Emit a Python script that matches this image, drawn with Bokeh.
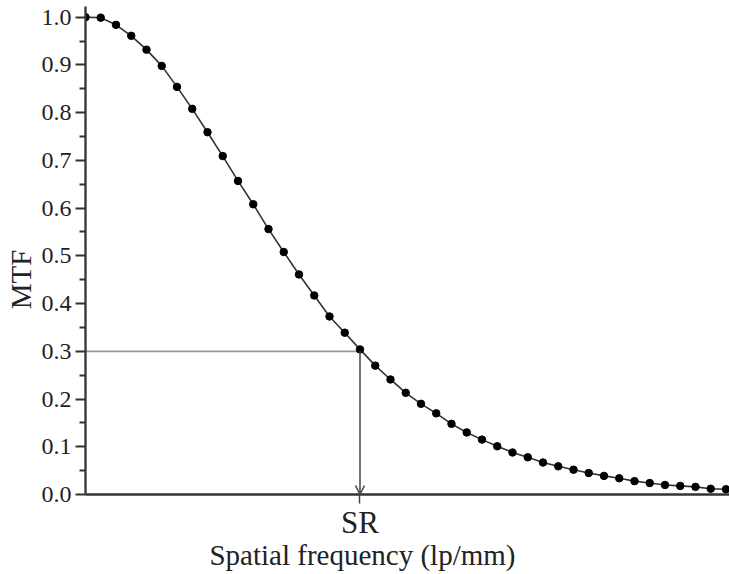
import math
from bokeh.plotting import figure
from bokeh.models import FixedTicker, PrintfTickFormatter, Range1d, Arrow, OpenHead, ColumnDataSource, LinearAxis
from bokeh.embed import file_html
from bokeh.resources import INLINE

# Data (spatial frequency in arbitrary sample steps, MTF values)
freq = list(range(43))
mtf = [1.000, 0.999, 0.984, 0.961, 0.932, 0.898, 0.854, 0.808, 0.759, 0.709,
       0.657, 0.608, 0.556, 0.508, 0.461, 0.417, 0.373, 0.339, 0.304, 0.270,
       0.241, 0.213, 0.190, 0.170, 0.148, 0.130, 0.115, 0.101, 0.088, 0.078,
       0.067, 0.059, 0.052, 0.045, 0.039, 0.034, 0.028, 0.024, 0.020, 0.018,
       0.016, 0.012, 0.011]
sr_freq = 18
sr_mtf = 0.30
y_ticks = [0.0, 0.1, 0.2, 0.3, 0.4, 0.5, 0.6, 0.7, 0.8, 0.9, 1.0]
y_minor = [0.05, 0.15, 0.25, 0.35, 0.45, 0.55, 0.65, 0.75, 0.85, 0.95]
x_title = "Spatial frequency (lp/mm)"
y_title = "MTF"

FONT = "Liberation Serif"
X_END = 42.23
Y_END = 1.0224

p = figure(width=729, height=574, output_backend="svg", toolbar_location=None,
           x_range=Range1d(0, X_END), y_range=Range1d(0, Y_END),
           min_border_left=85, min_border_right=0, min_border_top=6, min_border_bottom=80)
p.outline_line_color = None
p.grid.visible = False
p.background_fill_color = "white"
p.border_fill_color = "white"

# y axis
ya = p.yaxis[0]
ya.ticker = FixedTicker(ticks=y_ticks, minor_ticks=y_minor)
ya.formatter = PrintfTickFormatter(format="%.1f")
ya.axis_line_color = "#333333"
ya.axis_line_width = 2.3
ya.major_tick_line_color = "#333333"
ya.major_tick_line_width = 2
ya.minor_tick_line_color = "#333333"
ya.minor_tick_line_width = 2
ya.major_tick_in = 0
ya.major_tick_out = 10
ya.minor_tick_in = 0
ya.minor_tick_out = 6
ya.major_label_standoff = 4
ya.major_label_text_font = FONT
ya.major_label_text_font_size = "24px"
ya.major_label_text_color = "#222222"

# x axis
xa = p.xaxis[0]
xa.ticker = FixedTicker(ticks=[sr_freq], minor_ticks=[])
xa.major_label_overrides = {sr_freq: "SR"}
xa.axis_line_color = "#333333"
xa.axis_line_width = 2.3
xa.major_tick_line_color = "#444444"
xa.major_tick_line_width = 1.5
xa.major_tick_in = 0
xa.major_tick_out = 9
xa.minor_tick_in = 0
xa.minor_tick_out = 0
xa.major_label_standoff = 1
xa.major_label_text_font = FONT
xa.major_label_text_font_size = "31px"
xa.major_label_text_color = "#222222"

# axis titles as single-tick label axes (frame: 644 x 488 px)
px_x = 644 / X_END
px_y = 488 / Y_END
xt_pos = (362 - 85) / px_x
yt_pos = (494 - 279) / px_y

def title_axis(pos, text, orientation, standoff, size):
    ax = LinearAxis(ticker=FixedTicker(ticks=[pos], minor_ticks=[]),
                    major_label_overrides={pos: text})
    ax.axis_line_color = None
    ax.major_tick_line_color = None
    ax.minor_tick_line_color = None
    ax.major_tick_in = 0
    ax.major_tick_out = 0
    ax.minor_tick_in = 0
    ax.minor_tick_out = 0
    ax.major_label_standoff = standoff
    ax.major_label_orientation = orientation
    ax.major_label_text_font = FONT
    ax.major_label_text_font_size = size
    ax.major_label_text_color = "#222222"
    return ax

p.add_layout(title_axis(xt_pos, x_title, "horizontal", -4, "29px"), "below")
p.add_layout(title_axis(yt_pos, y_title, "parallel", 2, "29px"), "left")

# guide lines
p.segment(x0=[0], y0=[sr_mtf], x1=[sr_freq], y1=[sr_mtf], line_color="#999999", line_width=1.8)
p.add_layout(Arrow(end=OpenHead(size=9, line_color="#444444", line_width=1.5),
                   x_start=sr_freq, y_start=sr_mtf, x_end=sr_freq, y_end=0,
                   line_color="#444444", line_width=1.5))

# curve
src = ColumnDataSource(data=dict(f=freq, m=mtf))
p.line("f", "m", source=src, line_color="#333333", line_width=1.6)
p.scatter("f", "m", source=src, size=7.5, fill_color="black", line_color="black")

open("out.html", "w").write(file_html(p, INLINE))
